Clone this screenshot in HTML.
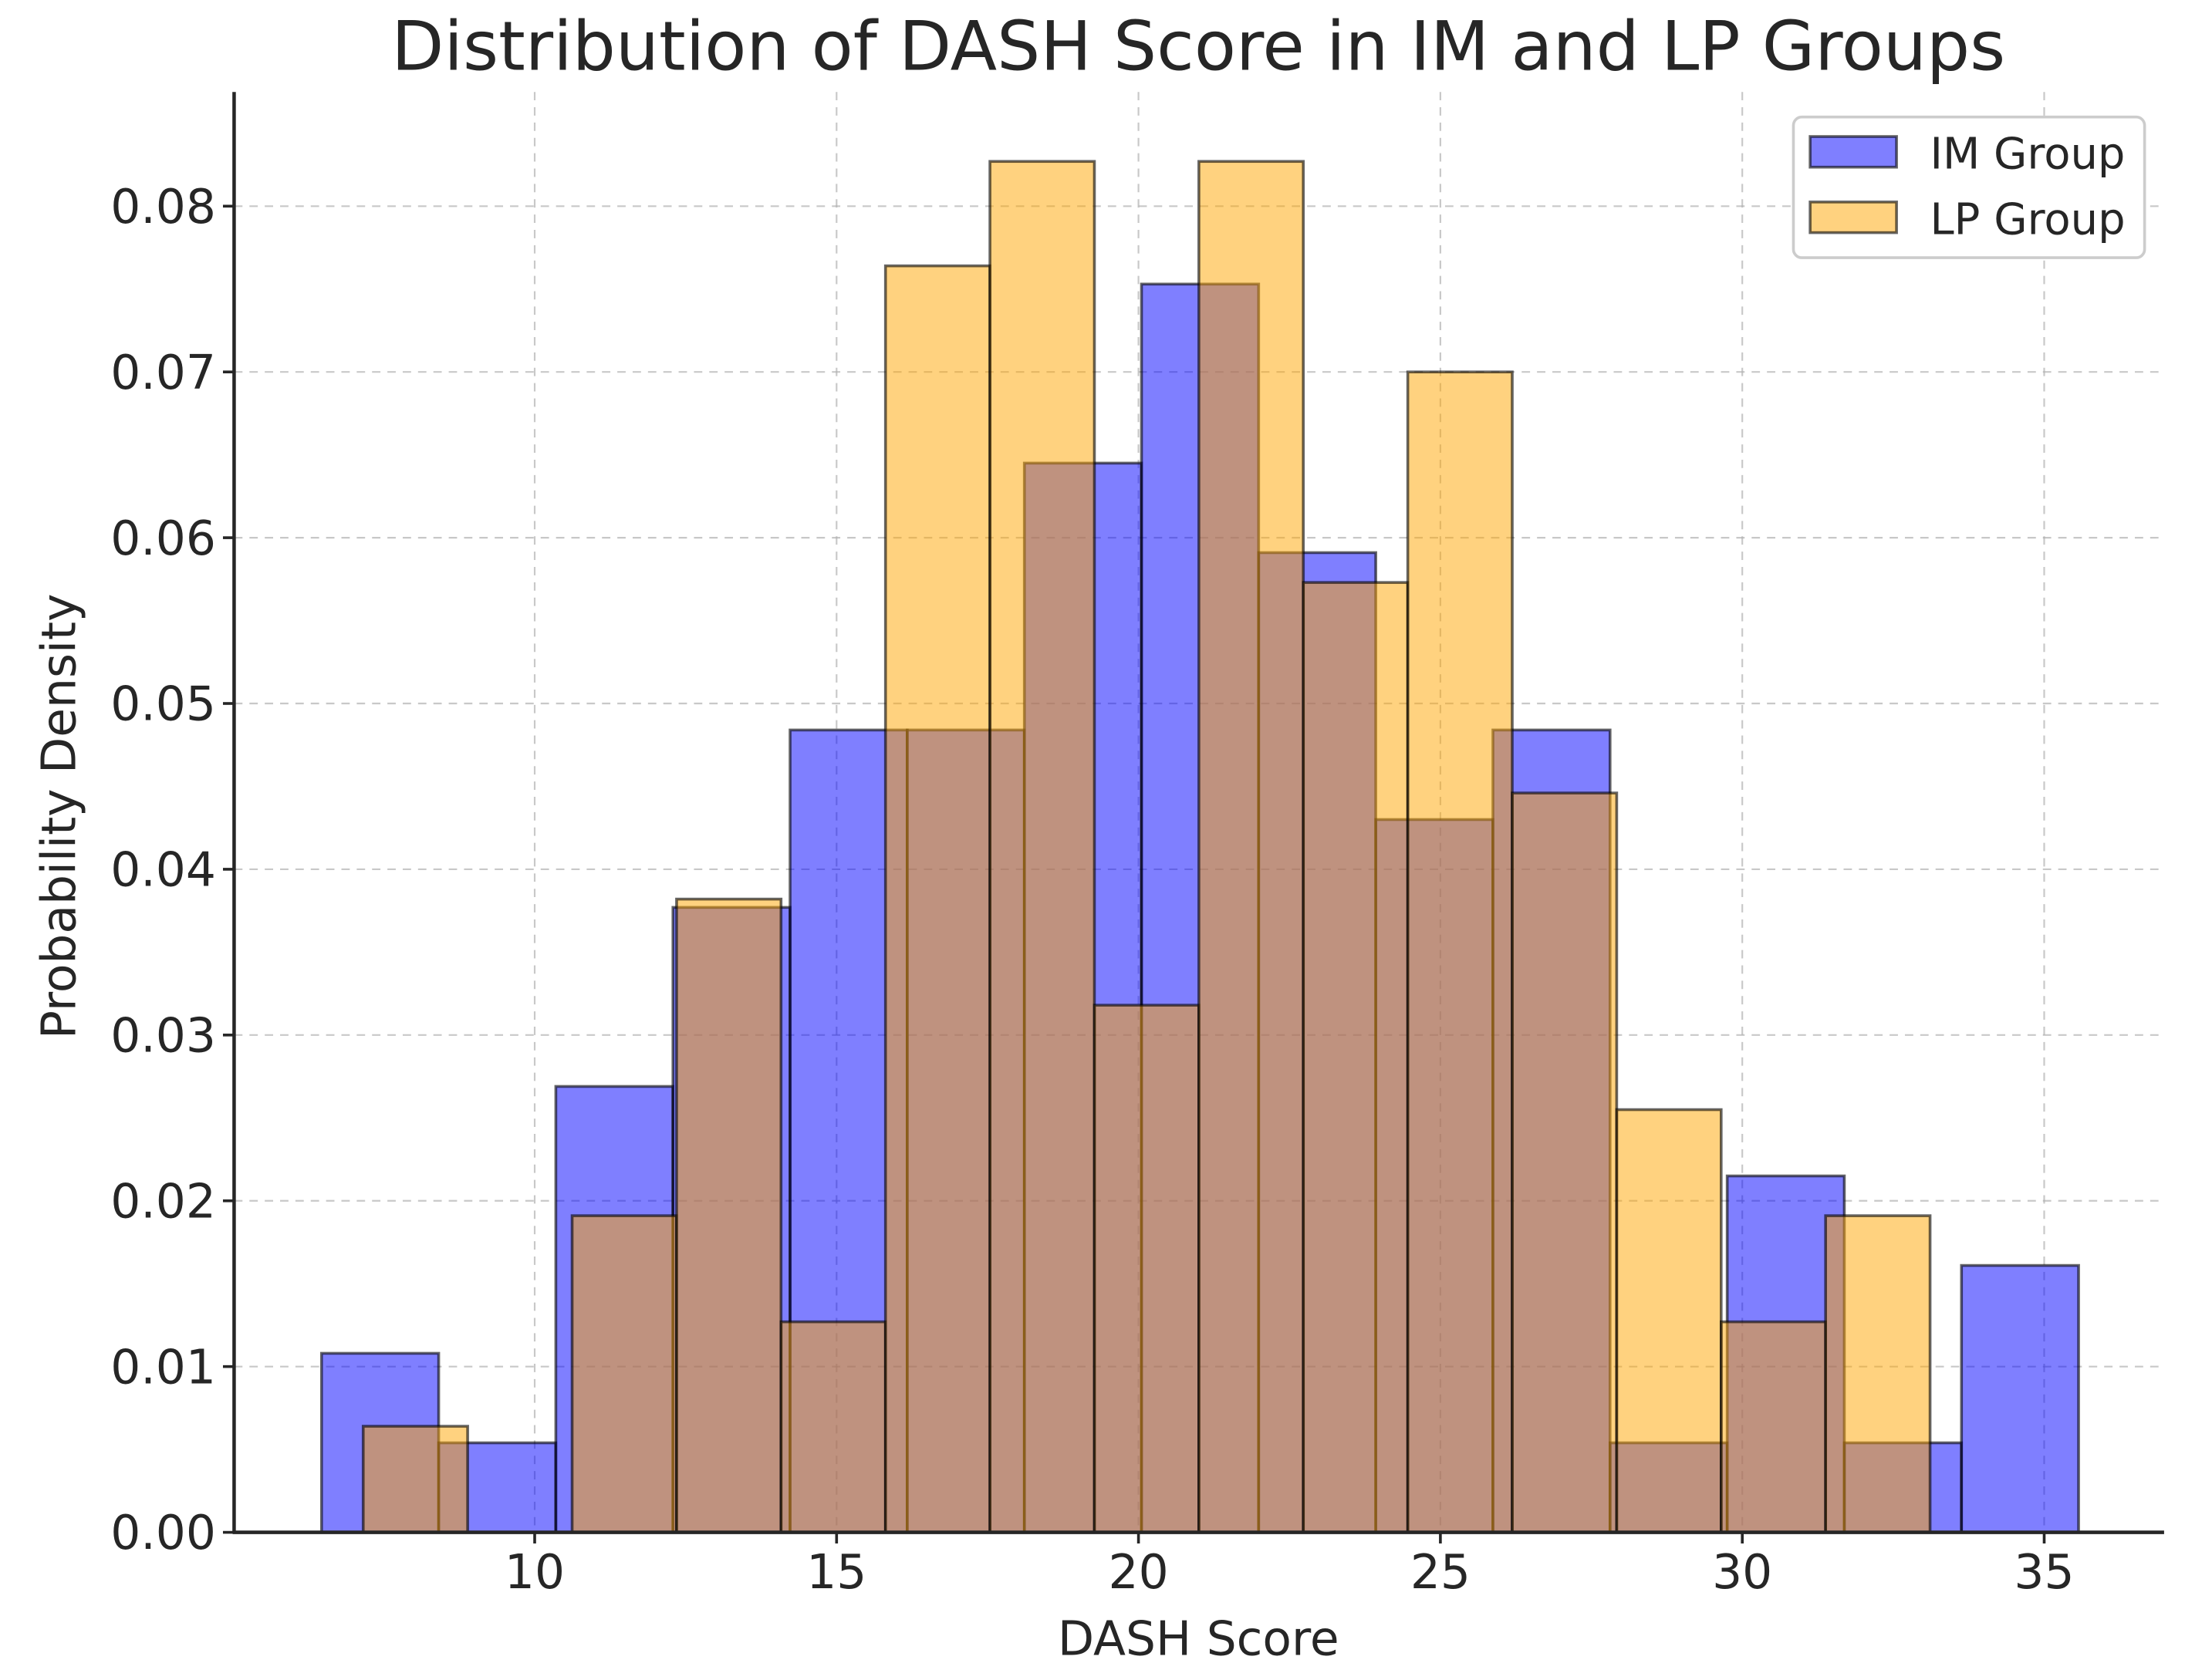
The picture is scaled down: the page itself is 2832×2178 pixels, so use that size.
<!DOCTYPE html>
<html><head><meta charset="utf-8"><style>
html,body{margin:0;padding:0;background:#fff}
svg{display:block}
text{font-family:"DejaVu Sans","Liberation Sans",sans-serif;fill:#262626}
</style></head><body>
<svg id="chart" width="2832" height="2178" viewBox="0 0 1568 1206" preserveAspectRatio="none" xmlns="http://www.w3.org/2000/svg">
<text x="860" y="50" text-anchor="middle" font-size="49">Distribution of DASH Score in IM and LP Groups</text>
<g id="grid"></g>
<g id="bars"></g>
<g id="axes"></g>
<text x="860" y="1188" text-anchor="middle" font-size="34">DASH Score</text>
<text transform="translate(54,586) rotate(-90)" text-anchor="middle" font-size="34">Probability Density</text>
<g>
<rect x="1287" y="84" width="252" height="101" rx="6" fill="#fff" stroke="#ccc" stroke-width="2"/>
<g><rect x="1299" y="98" width="62" height="22" fill="#0000ff" fill-opacity="0.5" stroke="#000" stroke-opacity="0.6" stroke-width="2"/><text x="1385" y="121" font-size="31">IM Group</text></g>
<g><rect x="1299" y="145" width="62" height="22" fill="#ffa500" fill-opacity="0.5" stroke="#000" stroke-opacity="0.6" stroke-width="2"/><text x="1385" y="168" font-size="31">LP Group</text></g>
</g>
</svg>
<script>
const imStart = 6.47, imWidth = 1.94;
const imValues = [0.0108,0.0054,0.0269,0.0377,0.0484,0.0484,0.0645,0.0753,0.0591,0.0430,0.0484,0.0054,0.0215,0.0054,0.0161];
const lpStart = 7.16, lpWidth = 1.73;
const lpValues = [0.0064,0,0.0191,0.0382,0.0127,0.0764,0.0827,0.0318,0.0827,0.0573,0.0700,0.0446,0.0255,0.0127,0.0191];
const xTicks = [10,15,20,25,30,35];
const yTicks = [0,0.01,0.02,0.03,0.04,0.05,0.06,0.07,0.08];
const yTickLabels = ["0.00","0.01","0.02","0.03","0.04","0.05","0.06","0.07","0.08"];

const NS = "http://www.w3.org/2000/svg";
const X = v => 817 + (v - 20) * 43.33;
const Y = v => 1100 - v * 11900;
function mk(tag, attrs, parent){const e=document.createElementNS(NS,tag);for(const k in attrs)e.setAttribute(k,attrs[k]);parent.appendChild(e);return e;}
const grid=document.getElementById('grid'), bars=document.getElementById('bars'), axes=document.getElementById('axes');
xTicks.forEach(t=>{
  const l=mk('line',{x1:X(t),x2:X(t),y1:66,y2:1100,stroke:'#b0b0b0','stroke-dasharray':'6,5','stroke-width':1.2,'stroke-opacity':0.7},grid);
  
  
  const tk=mk('line',{x1:X(t),x2:X(t),y1:1100,y2:1108,stroke:'#262626','stroke-width':2},axes);
  
  
  const tx=mk('text',{x:X(t),y:1140,'text-anchor':'middle','font-size':34},axes);
  tx.textContent=t;
  
  
});
yTicks.forEach((t,i)=>{
  const l=mk('line',{x1:168,x2:1552,y1:Y(t),y2:Y(t),stroke:'#b0b0b0','stroke-dasharray':'6,5','stroke-width':1.2,'stroke-opacity':0.7},grid);
  
  
  const tk=mk('line',{x1:160,x2:168,y1:Y(t),y2:Y(t),stroke:'#262626','stroke-width':2},axes);
  
  
  const tx=mk('text',{x:155,y:Y(t)+12,'text-anchor':'end','font-size':34},axes);
  tx.textContent=yTickLabels[i];
  
  
});
function drawSeries(start,width,vals,color,name){
  vals.forEach((v,i)=>{
    if(v<=0) return;
    const x0=X(start+i*width), x1=X(start+(i+1)*width);
    const r=mk('rect',{x:x0,y:Y(v),width:x1-x0,height:Y(0)-Y(v),fill:color,'fill-opacity':0.5,stroke:'#000','stroke-opacity':0.6,'stroke-width':2},bars);
    
    
  });
}
drawSeries(imStart,imWidth,imValues,'#0000ff','im-bar');
drawSeries(lpStart,lpWidth,lpValues,'#ffa500','lp-bar');
const ax1=mk('line',{x1:168,x2:168,y1:66,y2:1101,stroke:'#262626','stroke-width':2.5},axes);


const ax2=mk('line',{x1:167,x2:1553,y1:1100,y2:1100,stroke:'#262626','stroke-width':2.5},axes);


</script>
</body></html>
